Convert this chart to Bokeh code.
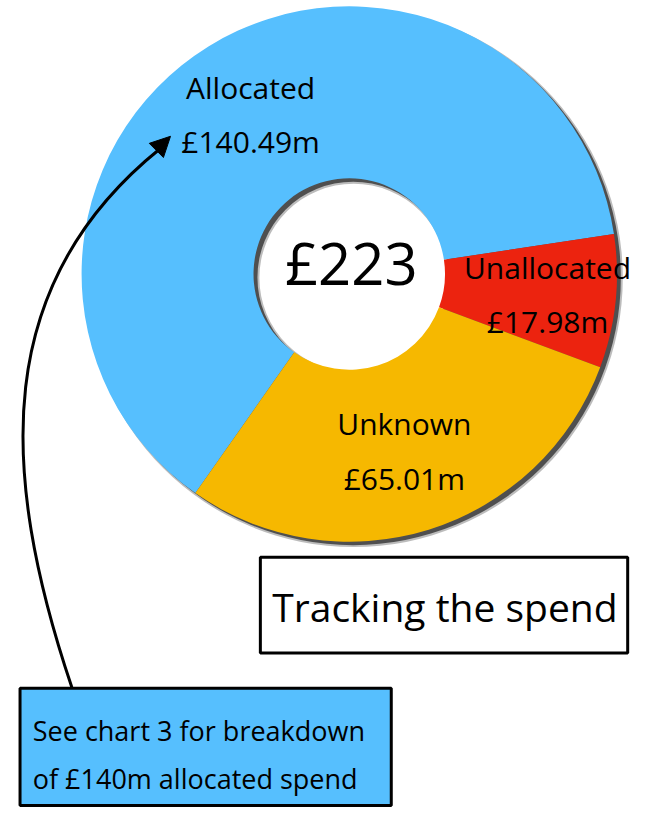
import math
from bokeh.plotting import figure
from bokeh.models import Range1d, Arrow, NormalHead
from bokeh.core.properties import value
from bokeh.embed import file_html
from bokeh.resources import INLINE

# ---- data ----
categories = ["Allocated", "Unallocated", "Unknown"]
amounts = [140.49, 17.98, 65.01]          # £m
colors = ["#56BFFE", "#EC230F", "#F6B800"]
title_text = "Tracking the spend"
note_lines = ["See chart 3 for breakdown", "of £140m allocated spend"]

# ---- layout (reference pixel coordinates, y measured upward) ----
W, H = 635, 810
REF_W = 650.0
SPAN_H = H * REF_W / W
def Y(py):
    return -py

cx, cy = 357, Y(280)
r_out, r_in = 274, 98
start_deg = 234.9          # clockwise traversal starts here
label_r = [192, 204, 190]
FONT = value("Open Sans")

p = figure(width=W, height=H, x_range=Range1d(0, REF_W), y_range=Range1d(-SPAN_H, 0),
           output_backend="svg", toolbar_location=None, min_border=0,
           x_axis_location=None, y_axis_location=None, background_fill_color="white",
           border_fill_color="white", outline_line_color=None)
p.grid.visible = False

# shadow
p.annulus(x=[cx + 4.5], y=[cy - 4], inner_radius=r_in - 1.5, outer_radius=r_out + 1.5,
          fill_color="#222222", fill_alpha=0.3, line_color=None)
p.annulus(x=[cx + 4], y=[cy - 3.5], inner_radius=r_in, outer_radius=r_out,
          fill_color="#333333", fill_alpha=0.8, line_color=None)

total = sum(amounts)
cum = 0.0
label_x, label_y, names = [], [], []
for i, (cat, amt, col) in enumerate(zip(categories, amounts, colors)):
    a0 = start_deg - cum / total * 360
    cum += amt
    a1 = start_deg - cum / total * 360
    p.annular_wedge(x=[cx], y=[cy], inner_radius=r_in, outer_radius=r_out,
                    start_angle=math.radians(a1), end_angle=math.radians(a0),
                    fill_color=col, line_color=None)
    mid = math.radians((a0 + a1) / 2)
    lx = cx + label_r[i] * math.cos(mid)
    ly = cy + label_r[i] * math.sin(mid)
    label_x += [lx, lx]
    label_y += [ly + 28, ly - 28]
    names += [cat, f"£{amt:.2f}m"]

p.text(x=label_x, y=label_y, text=names, text_font=FONT, text_font_size="30px",
       text_align="center", text_baseline="middle", text_color="black")

p.text(x=[cx + 2], y=[Y(268)], text=[f"£{int(total)}"], text_font=FONT, text_font_size="58px",
       text_align="center", text_baseline="middle", text_color="black")

# title box
p.quad(left=[266], right=[642], top=[Y(570)], bottom=[Y(668)], fill_color="white",
       line_color="black", line_width=3)
p.text(x=[455], y=[Y(620)], text=[title_text], text_font=FONT, text_font_size="39px",
       text_align="center", text_baseline="middle", text_color="black")

# note box
p.quad(left=[20], right=[400], top=[Y(704)], bottom=[Y(824)], fill_color=colors[0],
       line_color="black", line_width=3)
p.text(x=[33, 33], y=[Y(747), Y(796)], text=note_lines, text_font=FONT, text_font_size="27px",
       text_align="left", text_baseline="middle", text_color="black")

# curved arrow
p.bezier(x0=[73], y0=[Y(703)], x1=[163], y1=[Y(152)], cx0=[-2], cy0=[Y(480)],
         cx1=[-8], cy1=[Y(290)], line_color="black", line_width=3)
p.add_layout(Arrow(end=NormalHead(size=20, fill_color="black", line_color="black"),
                   x_start=150, y_start=Y(163), x_end=174, y_end=Y(139),
                   line_alpha=0, line_width=3))

open("out.html", "w").write(file_html(p, INLINE))
